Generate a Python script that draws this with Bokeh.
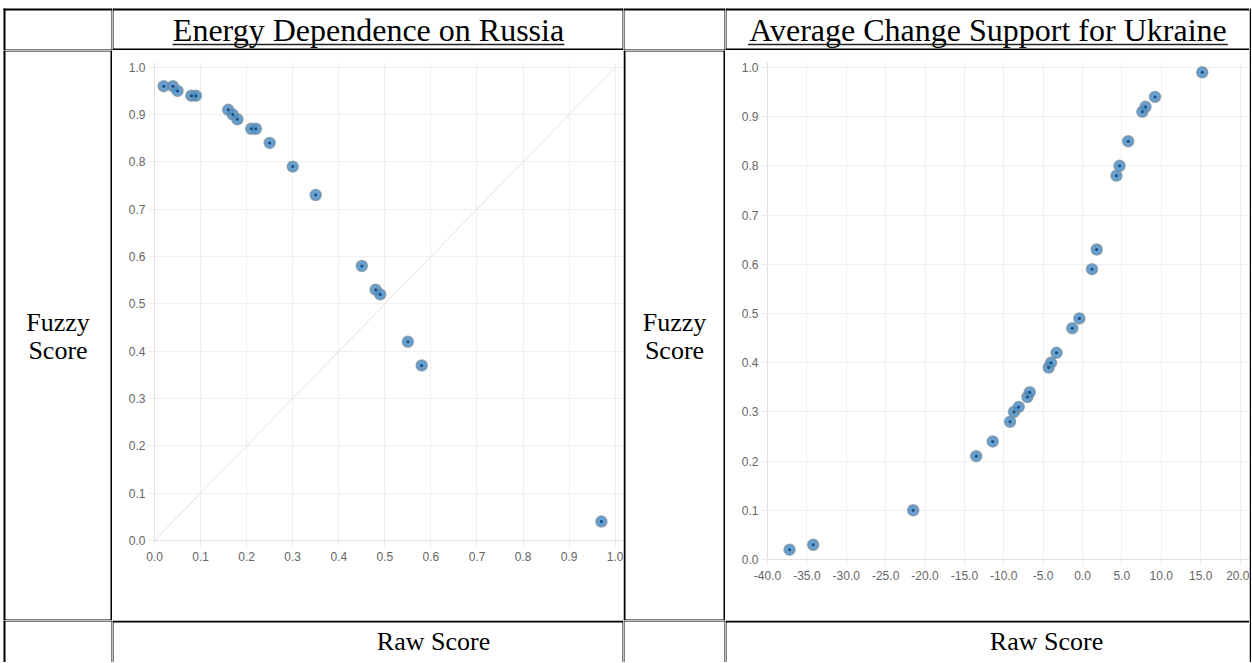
from bokeh.plotting import figure
from bokeh.layouts import row, column
from bokeh.models import Range1d, FixedTicker, NumeralTickFormatter, ColumnDataSource, Plot
from bokeh.core.properties import value
from bokeh.embed import file_html
from bokeh.resources import INLINE

# ---------------- data ----------------
title_left = "Energy Dependence on Russia"
title_right = "Average Change Support for Ukraine"
y_label_lines = ["Fuzzy", "Score"]
x_label = "Raw Score"

energy_raw = [0.02, 0.04, 0.05, 0.08, 0.09, 0.16, 0.17, 0.18, 0.21, 0.22,
              0.25, 0.30, 0.35, 0.45, 0.48, 0.49, 0.55, 0.58, 0.97]
energy_fuzzy = [0.96, 0.96, 0.95, 0.94, 0.94, 0.91, 0.90, 0.89, 0.87, 0.87,
                0.84, 0.79, 0.73, 0.58, 0.53, 0.52, 0.42, 0.37, 0.04]
diag_x = [0.0, 1.0]
diag_y = [0.0, 1.0]

support_raw = [-37.2, -34.2, -21.5, -13.5, -11.4, -9.2, -8.7, -8.1, -7.0, -6.7,
               -4.3, -4.0, -3.3, -1.3, -0.4, 1.2, 1.8, 4.3, 4.7, 5.8,
               7.6, 8.0, 9.2, 15.2]
support_fuzzy = [0.02, 0.03, 0.10, 0.21, 0.24, 0.28, 0.30, 0.31, 0.33, 0.34,
                 0.39, 0.40, 0.42, 0.47, 0.49, 0.59, 0.63, 0.78, 0.80, 0.85,
                 0.91, 0.92, 0.94, 0.99]

x_ticks_left = [0.0, 0.1, 0.2, 0.3, 0.4, 0.5, 0.6, 0.7, 0.8, 0.9, 1.0]
x_ticks_right = [-40, -35, -30, -25, -20, -15, -10, -5, 0, 5, 10, 15, 20]
y_ticks = [0.0, 0.1, 0.2, 0.3, 0.4, 0.5, 0.6, 0.7, 0.8, 0.9, 1.0]

# ---------------- layout constants ----------------
W_A, W_B, W_C, W_D, W_S = 112, 511, 102, 524, 2
H1, H2, H3 = 50, 570, 42
TOP_GAP = 8      # white space above the table's top border
LEFT_GAP = 3     # white space left of the table's left border
SERIF = "Liberation Serif"
SANS = "Liberation Sans"
BASELINE_FIX = 0.33   # measured offset of the svg text baseline (in em)

EXTRA = {"frame_align": False} if "frame_align" in Plot.properties() else {}

# Times / Liberation Serif advance widths (per 1000 em) for underline length
TNR = {" ": 250, "A": 722, "C": 667, "D": 722, "E": 611, "R": 667, "S": 556, "U": 722,
       "a": 444, "c": 444, "d": 500, "e": 444, "f": 333, "g": 500, "h": 500, "i": 278,
       "k": 500, "n": 500, "o": 500, "p": 500, "r": 333, "s": 389, "t": 278, "u": 500,
       "v": 500, "y": 500}


def text_width(s, size):
    return sum(TNR.get(c, 500) for c in s) / 1000.0 * size


def cell(w, h, edges, top_gap=0, left_gap=0):
    p = figure(width=w, height=h, x_range=Range1d(0, w), y_range=Range1d(0, h),
               min_border=0, toolbar_location=None, output_backend="svg",
               x_axis_type=None, y_axis_type=None, outline_line_color=None,
               background_fill_color="white", border_fill_color="white", **EXTRA)
    ytop = h - top_gap
    t = edges.get("top", 0)
    b = edges.get("bottom", 0)
    l = edges.get("left", 0)
    r = edges.get("right", 0)
    if t:
        p.segment(x0=[left_gap], y0=[ytop - t / 2], x1=[w], y1=[ytop - t / 2],
                  line_width=t, line_color="black")
    if b:
        p.segment(x0=[left_gap], y0=[b / 2], x1=[w], y1=[b / 2], line_width=b, line_color="black")
    if l:
        p.segment(x0=[left_gap + l / 2], y0=[0], x1=[left_gap + l / 2], y1=[ytop],
                  line_width=l, line_color="black")
    if r:
        p.segment(x0=[w - r / 2], y0=[0], x1=[w - r / 2], y1=[ytop], line_width=r,
                  line_color="black")
    return p


def add_text(p, x, y, s, size):
    p.text(x=[x], y=[y + BASELINE_FIX * size], text=[s], text_font=value(SERIF),
           text_font_size=value(f"{size}px"), text_align="center",
           text_baseline="alphabetic", text_color="black")


def add_title(p, cx, base_y, s, size):
    add_text(p, cx, base_y, s, size)
    tw = text_width(s, size)
    p.segment(x0=[cx - tw / 2], y0=[base_y - 3.5], x1=[cx + tw / 2], y1=[base_y - 3.5],
              line_width=1.6, line_color="#222222")


def chart(w, h, xr, yr, xticks, mbl, mbt, mbb, xs, ys, diag=None):
    p = figure(width=w, height=h, x_range=Range1d(*xr), y_range=Range1d(*yr),
               min_border_left=mbl, min_border_right=0, min_border_top=mbt,
               min_border_bottom=mbb, toolbar_location=None, output_backend="svg",
               outline_line_color=None, background_fill_color="white",
               border_fill_color="white", **EXTRA)
    p.xaxis.ticker = FixedTicker(ticks=xticks)
    p.yaxis.ticker = FixedTicker(ticks=y_ticks)
    p.xaxis.formatter = NumeralTickFormatter(format="0.0")
    p.yaxis.formatter = NumeralTickFormatter(format="0.0")
    p.axis.major_label_text_font = SANS
    p.axis.major_label_text_font_size = "12px"
    p.axis.major_label_text_color = "#666666"
    p.axis.axis_line_color = "#e0e0e0"
    p.axis.major_tick_line_color = "#ebebeb"
    p.axis.major_tick_out = 6
    p.axis.major_tick_in = 0
    p.axis.minor_tick_line_color = None
    p.xaxis.major_label_standoff = 5
    p.yaxis.major_label_standoff = 3
    p.grid.grid_line_color = "#efefef"
    if diag is not None:
        p.line(diag[0], diag[1], line_color="#e2e2e2", line_width=1)
    src = ColumnDataSource(dict(x=xs, y=ys))
    p.scatter("x", "y", source=src, size=11, marker="circle", fill_color="#4a8fc9",
              fill_alpha=0.85, line_color="#7b8e9e", line_alpha=0.75, line_width=1.5)
    p.scatter("x", "y", source=src, size=3, marker="circle", fill_color="#1d4b78",
              line_color=None)
    return p


# ---------------- header row ----------------
A1 = cell(W_A, H1, dict(top=2, left=2, right=1, bottom=1), TOP_GAP, LEFT_GAP)
B1 = cell(W_B, H1, dict(top=2, left=1, right=1, bottom=2), TOP_GAP)
add_title(B1, 256, 9.5, title_left, 32)
C1 = cell(W_C, H1, dict(top=2, left=1, right=1, bottom=1), TOP_GAP)
D1 = cell(W_D, H1, dict(top=2, left=1, bottom=2), TOP_GAP)
add_title(D1, 262.5, 9.5, title_right, 32)

# ---------------- chart row ----------------
A2 = cell(W_A, H2, dict(top=1, left=2, right=2, bottom=1), 0, LEFT_GAP)
add_text(A2, 57.5, 289, y_label_lines[0], 26)
add_text(A2, 57.5, 261, y_label_lines[1], 26)

B2 = chart(W_B, H2, (0.0, 1.018), (0.0, 1.01), x_ticks_left, 42, 12, 80,
           energy_raw, energy_fuzzy, diag=(diag_x, diag_y))

C2 = cell(W_C, H2, dict(top=1, left=2, right=2, bottom=1))
add_text(C2, 51, 289, y_label_lines[0], 26)
add_text(C2, 51, 261, y_label_lines[1], 26)

D2 = chart(W_D, H2, (-40.0, 21.2), (0.0, 1.01), x_ticks_right, 42, 12, 61,
           support_raw, support_fuzzy)

# ---------------- footer row ----------------
A3 = cell(W_A, H3, dict(top=1, left=2, right=1), 0, LEFT_GAP)
B3 = cell(W_B, H3, dict(top=2, left=1, right=1))
add_text(B3, 321, 12, x_label, 26)
C3 = cell(W_C, H3, dict(top=1, left=1, right=1))
D3 = cell(W_D, H3, dict(top=2, left=1))
add_text(D3, 321, 12, x_label, 26)

# right border strip
H_ALL = H1 + H2 + H3
S = figure(width=W_S, height=H_ALL, x_range=Range1d(0, W_S), y_range=Range1d(0, H_ALL),
           min_border=0, toolbar_location=None, output_backend="svg",
           x_axis_type=None, y_axis_type=None, outline_line_color=None,
           background_fill_color="white", border_fill_color="white", **EXTRA)
S.segment(x0=[1], y0=[0], x1=[1], y1=[H_ALL - TOP_GAP], line_color="black", line_width=2)

layout = row(column(A1, A2, A3), column(B1, B2, B3), column(C1, C2, C3),
             column(D1, D2, D3), S)

open("out.html", "w").write(file_html(layout, INLINE))
